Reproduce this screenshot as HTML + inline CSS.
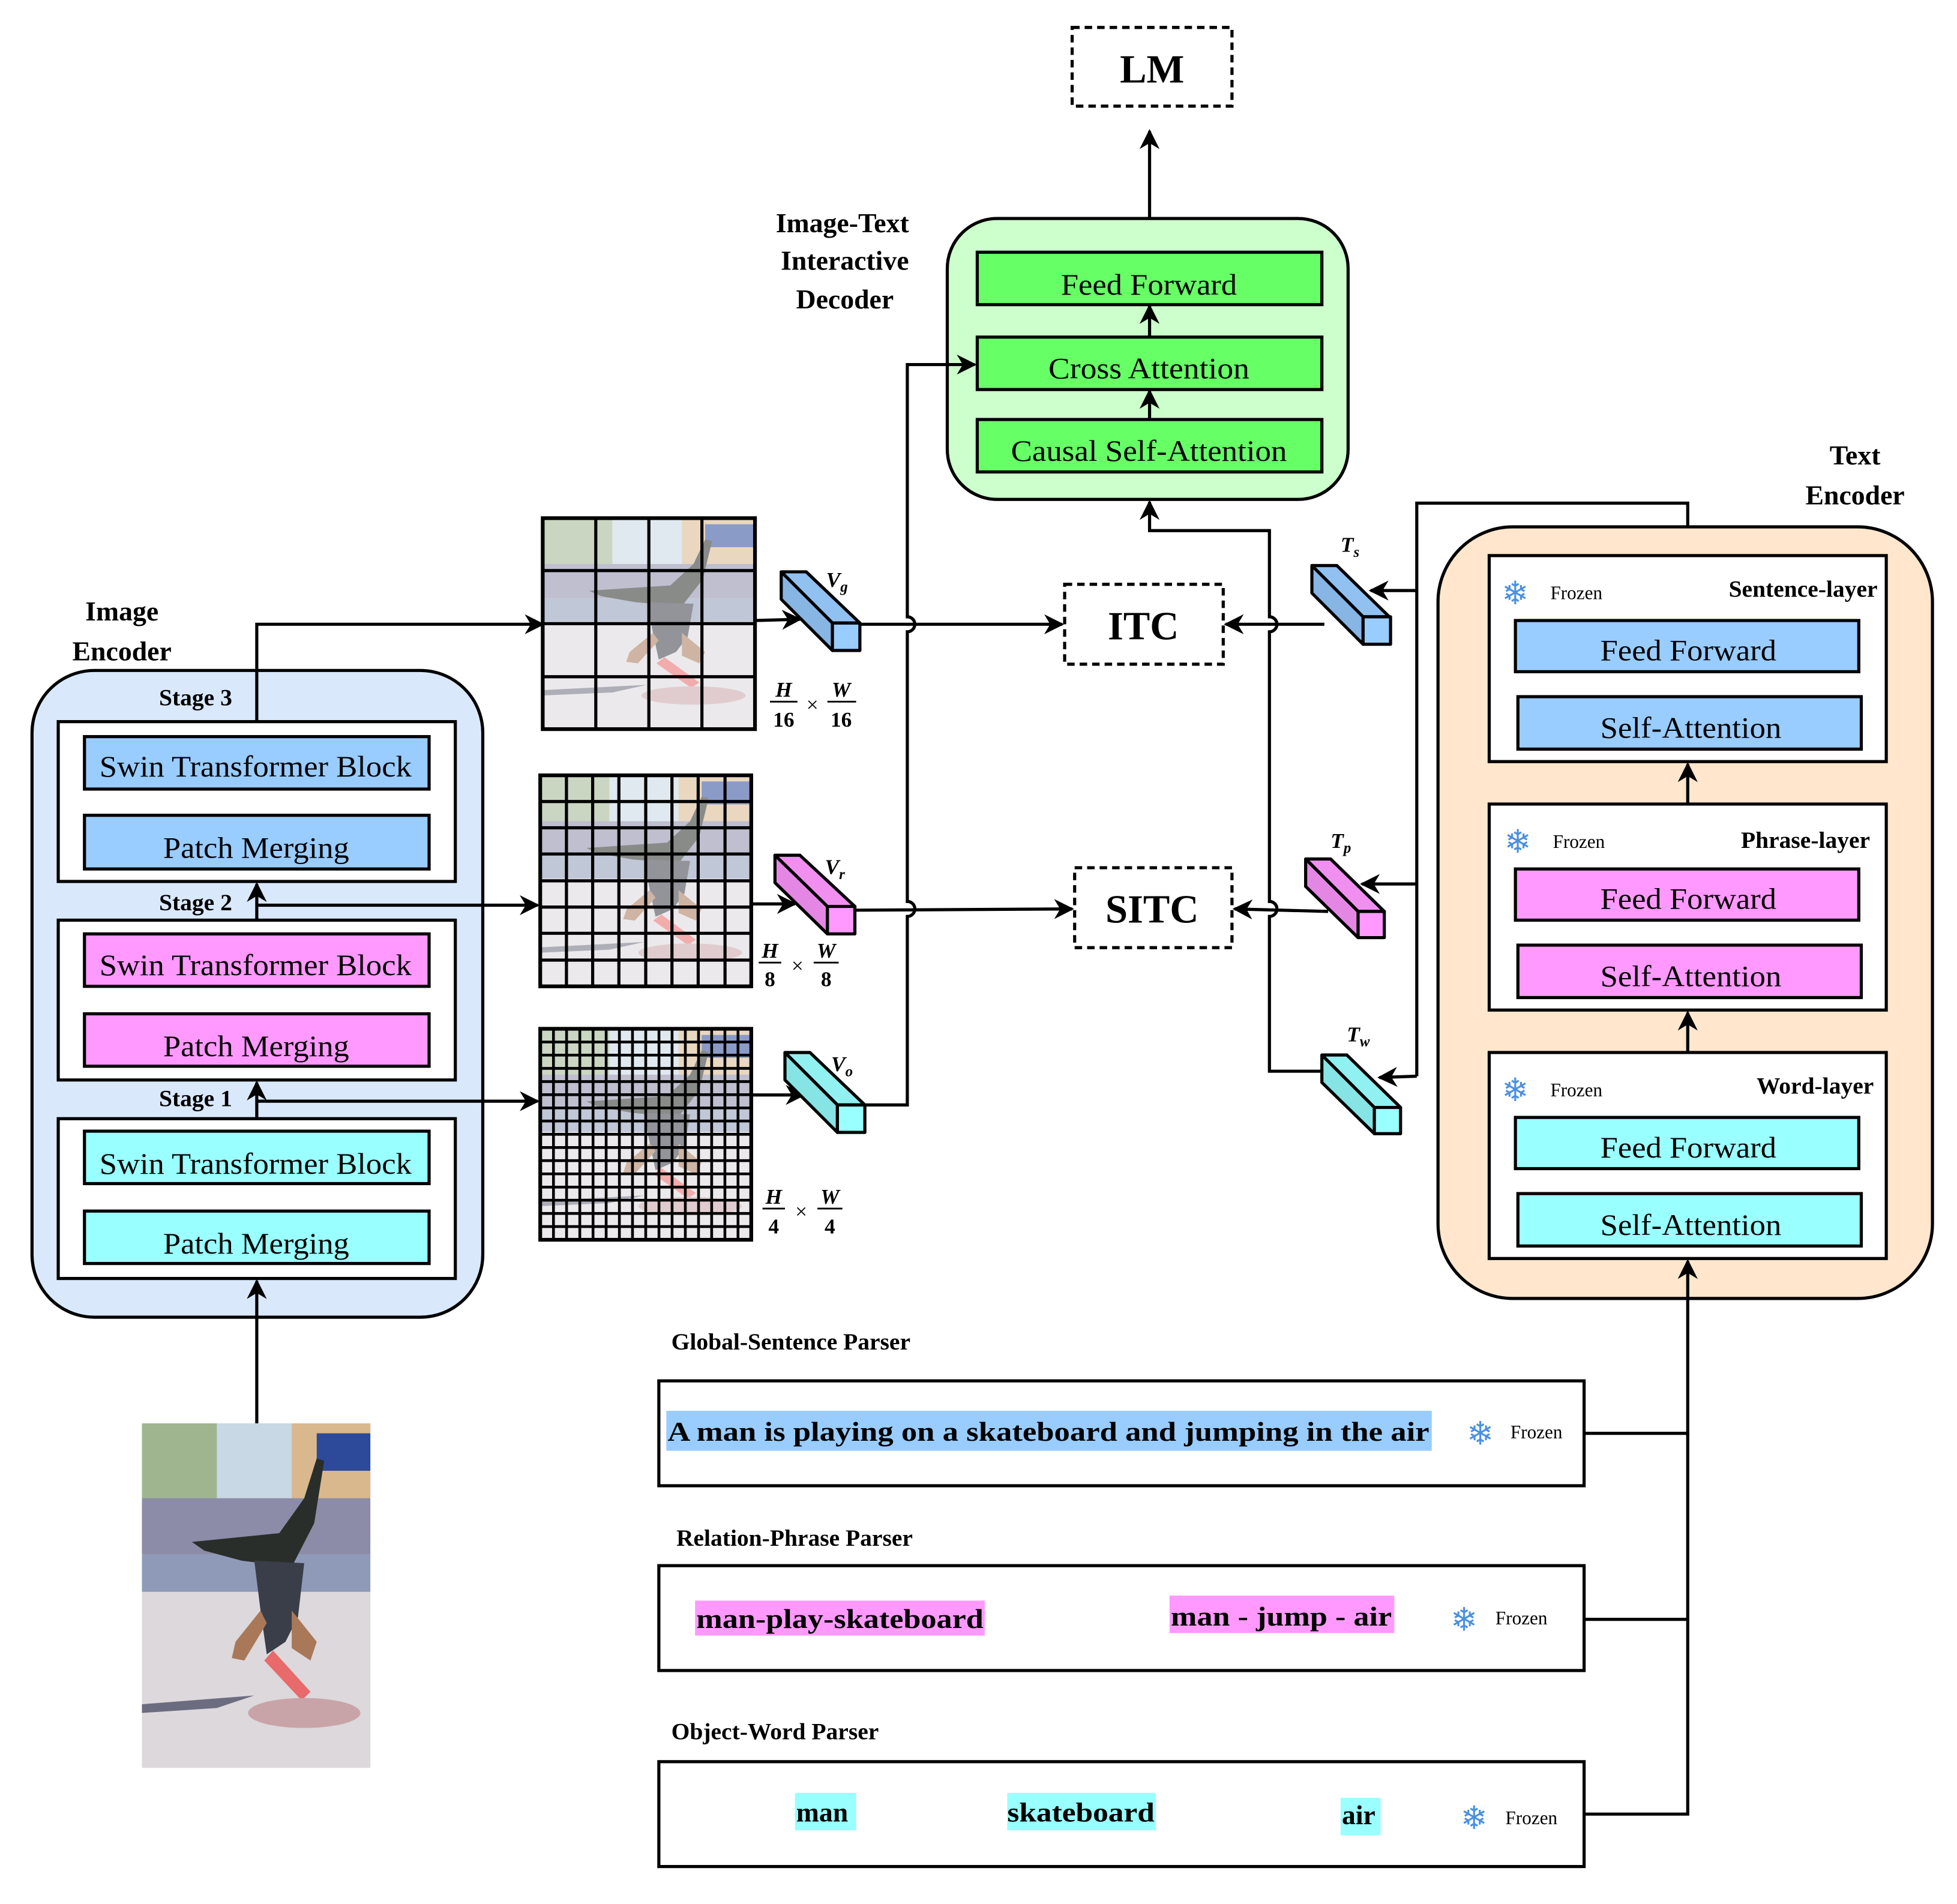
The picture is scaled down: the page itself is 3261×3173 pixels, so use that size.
<!DOCTYPE html>
<html><head><meta charset="utf-8">
<style>
html,body{margin:0;padding:0;background:#fff;}
svg{display:block;font-family:"Liberation Serif","Times New Roman",serif;}
svg text{font-family:"Liberation Serif","Times New Roman",serif;fill:#000;}
.b{font-weight:bold;}
.t22{font-size:22px;}
.t24{font-size:24px;}
.fz{font-size:15px;}
svg text.sf{font-family:"DejaVu Sans",sans-serif;fill:#4a90e2;font-size:26px;}
.it{font-style:italic;font-weight:bold;font-size:17px;}
</style></head>
<body>
<svg width="3261" height="3173" viewBox="0 0 1566 1525" xmlns="http://www.w3.org/2000/svg" font-family="Liberation Serif, serif">
<defs>
<marker id="a" viewBox="0 0 10 10" refX="9" refY="5" markerWidth="16" markerHeight="16" markerUnits="userSpaceOnUse" orient="auto">
<path d="M0,0 L10,5 L0,10 L3,5 z" fill="#000"/>
</marker>
<symbol id="photo" viewBox="0 0 183 276" preserveAspectRatio="none">
<rect width="183" height="276" fill="#d9d9df"/>
<rect width="183" height="60" fill="#c8d8e4"/>
<rect x="0" y="0" width="60" height="90" fill="#9fb58f"/>
<rect x="120" y="0" width="63" height="95" fill="#d8b88c"/>
<rect x="140" y="8" width="43" height="30" fill="#2d4a9a"/>
<rect x="0" y="60" width="183" height="45" fill="#8c8ca8"/>
<rect x="0" y="105" width="183" height="30" fill="#8e9ab8"/>
<rect x="0" y="135" width="183" height="141" fill="#dcd8dc"/>
<path d="M40,95 L70,92 L110,88 L130,60 L140,28 L146,30 L138,80 L120,115 L80,110 L50,102z" fill="#2a2e2a"/>
<path d="M90,110 L130,112 L125,155 L115,175 L100,185 L95,150z" fill="#3a3e48"/>
<path d="M95,150 L75,175 L72,188 L82,190 L100,160z" fill="#a87858"/>
<path d="M120,150 L140,175 L135,190 L120,180z" fill="#a87858"/>
<path d="M105,182 L135,215 L128,222 L98,190z" fill="#e86a6a"/>
<ellipse cx="130" cy="232" rx="45" ry="12" fill="#c8a4a8"/>
<path d="M0,225 L90,218 L60,228 L0,232z" fill="#6c6c80"/>
</symbol>
</defs>

<!-- LM -->
<rect x="858" y="22" width="128" height="63" fill="#fff" stroke="#000" stroke-width="2.5" stroke-dasharray="6,4"/>
<text x="922" y="66" text-anchor="middle" class="b" font-size="32">LM</text>
<line x1="920" y1="203" x2="920" y2="105" stroke="#000" stroke-width="2.5" marker-end="url(#a)"/>

<!-- Decoder -->
<text class="b t22" text-anchor="middle"><tspan x="674" y="186">Image-Text</tspan><tspan x="676" y="216">Interactive</tspan><tspan x="676" y="247">Decoder</tspan></text>
<rect x="758" y="175" width="321" height="225" rx="40" fill="#ccffcc" stroke="#000" stroke-width="2.5"/>
<rect x="782" y="202" width="276" height="42" fill="#66ff66" stroke="#000" stroke-width="2.5"/>
<text x="849" y="236" class="t24" textLength="141" lengthAdjust="spacingAndGlyphs">Feed Forward</text>
<rect x="782" y="270" width="276" height="42" fill="#66ff66" stroke="#000" stroke-width="2.5"/>
<text x="839" y="303" class="t24" textLength="161" lengthAdjust="spacingAndGlyphs">Cross Attention</text>
<rect x="782" y="336" width="276" height="42" fill="#66ff66" stroke="#000" stroke-width="2.5"/>
<text x="809" y="369" class="t24" textLength="221" lengthAdjust="spacingAndGlyphs">Causal Self-Attention</text>
<line x1="920" y1="270" x2="920" y2="245" stroke="#000" stroke-width="2.5" marker-end="url(#a)"/>
<line x1="920" y1="336" x2="920" y2="313" stroke="#000" stroke-width="2.5" marker-end="url(#a)"/>

<!-- Image Encoder -->
<text class="b t22" text-anchor="middle"><tspan x="97" y="497">Image</tspan><tspan x="97" y="529">Encoder</tspan></text>
<rect x="25" y="537" width="361" height="518" rx="50" fill="#dae8fc" stroke="#000" stroke-width="2.5"/>
<g class="b" font-size="19">
<text x="156" y="565" text-anchor="middle">Stage 3</text>
<text x="156" y="729" text-anchor="middle">Stage 2</text>
<text x="156" y="886" text-anchor="middle">Stage 1</text>
</g>
<g stroke="#000" stroke-width="2.5">
<rect x="46" y="578" width="318" height="128" fill="#fff"/>
<rect x="67" y="590" width="276" height="42" fill="#99ccff"/>
<rect x="67" y="653" width="276" height="43" fill="#99ccff"/>
<rect x="46" y="737" width="318" height="128" fill="#fff"/>
<rect x="67" y="748" width="276" height="42" fill="#ff99ff"/>
<rect x="67" y="812" width="276" height="42" fill="#ff99ff"/>
<rect x="46" y="896" width="318" height="128" fill="#fff"/>
<rect x="67" y="906" width="276" height="42" fill="#99ffff"/>
<rect x="67" y="970" width="276" height="42" fill="#99ffff"/>
</g>
<g class="t24">
<text x="79" y="622" textLength="250" lengthAdjust="spacingAndGlyphs">Swin Transformer Block</text>
<text x="130" y="687" textLength="149" lengthAdjust="spacingAndGlyphs">Patch Merging</text>
<text x="79" y="781" textLength="250" lengthAdjust="spacingAndGlyphs">Swin Transformer Block</text>
<text x="130" y="846" textLength="149" lengthAdjust="spacingAndGlyphs">Patch Merging</text>
<text x="79" y="940" textLength="250" lengthAdjust="spacingAndGlyphs">Swin Transformer Block</text>
<text x="130" y="1004" textLength="149" lengthAdjust="spacingAndGlyphs">Patch Merging</text>
</g>

<!-- photo -->
<use href="#photo" x="113" y="1140" width="183" height="276"/>
<line x1="205" y1="1140" x2="205" y2="1026" stroke="#000" stroke-width="2.5" marker-end="url(#a)"/>
<line x1="205" y1="896" x2="205" y2="867" stroke="#000" stroke-width="2.5" marker-end="url(#a)"/>
<line x1="205" y1="737" x2="205" y2="708" stroke="#000" stroke-width="2.5" marker-end="url(#a)"/>
<polyline points="205,578 205,500 434,500" fill="none" stroke="#000" stroke-width="2.5" marker-end="url(#a)"/>
<line x1="205" y1="725" x2="430" y2="725" stroke="#000" stroke-width="2.5" marker-end="url(#a)"/>
<line x1="205" y1="882" x2="430" y2="882" stroke="#000" stroke-width="2.5" marker-end="url(#a)"/>

<!-- grids -->
<g>
<use href="#photo" x="434" y="415" width="170" height="169" opacity="0.55"/>
<rect x="434" y="415" width="170" height="169" fill="none" stroke="#000" stroke-width="3"/>
<path d="M476.5,415V584M519,415V584M561.5,415V584M434,457H604M434,499.5H604M434,542H604" stroke="#000" stroke-width="2.5"/>
</g>
<g>
<use href="#photo" x="432" y="621" width="169" height="169" opacity="0.55"/>
<rect x="432" y="621" width="169" height="169" fill="none" stroke="#000" stroke-width="3"/>
<path d="M453,621V790M474,621V790M495,621V790M516.5,621V790M537.5,621V790M558.5,621V790M580,621V790M432,642H601M432,663H601M432,684H601M432,705.5H601M432,726.5H601M432,747.5H601M432,769H601" stroke="#000" stroke-width="2.5"/>
</g>
<g>
<use href="#photo" x="432" y="824" width="169" height="169" opacity="0.55"/>
<rect x="432" y="824" width="169" height="169" fill="none" stroke="#000" stroke-width="3"/>
<path d="M442.6,824V993M453.1,824V993M463.7,824V993M474.3,824V993M484.8,824V993M495.4,824V993M505.9,824V993M516.5,824V993M527.1,824V993M537.6,824V993M548.2,824V993M558.8,824V993M569.3,824V993M579.9,824V993M590.4,824V993M432,834.6H601M432,845.1H601M432,855.7H601M432,866.3H601M432,876.8H601M432,887.4H601M432,897.9H601M432,908.5H601M432,919.1H601M432,929.6H601M432,940.2H601M432,950.8H601M432,961.3H601M432,971.9H601M432,982.4H601" stroke="#000" stroke-width="2.2"/>
</g>

<!-- arrows grid->cube -->
<line x1="604" y1="497" x2="640" y2="496" stroke="#000" stroke-width="2.5" marker-end="url(#a)"/>
<line x1="601" y1="724" x2="636" y2="724" stroke="#000" stroke-width="2.5" marker-end="url(#a)"/>
<line x1="601" y1="877" x2="643" y2="877" stroke="#000" stroke-width="2.5" marker-end="url(#a)"/>

<!-- V cubes -->
<g stroke="#000" stroke-width="2.5" stroke-linejoin="round">
<polygon points="625,458 645,458 688,499 666,499" fill="#91c1f0"/>
<polygon points="625,458 666,499 666,521 625,480" fill="#87b5e4"/>
<rect x="666" y="499" width="22" height="22" fill="#99ccff"/>
<polygon points="620,685 640,685 684,726 662,726" fill="#f08ff0"/>
<polygon points="620,685 662,726 662,748 620,707" fill="#e487e4"/>
<rect x="662" y="726" width="22" height="22" fill="#ff99ff"/>
<polygon points="628,843 648,843 692,885 670,885" fill="#91f0f0"/>
<polygon points="628,843 670,885 670,907 628,865" fill="#87e4e4"/>
<rect x="670" y="885" width="22" height="22" fill="#99ffff"/>
</g>
<g class="it">
<text x="661" y="470">V<tspan font-size="12" dy="4">g</tspan></text>
<text x="660" y="700">V<tspan font-size="12" dy="4">r</tspan></text>
<text x="665" y="858">V<tspan font-size="12" dy="4">o</tspan></text>
</g>

<!-- fractions -->
<g class="b" font-size="17" text-anchor="middle">
<text x="627" y="558" font-style="italic">H</text><line x1="616" y1="562" x2="638" y2="562" stroke="#000" stroke-width="1.4"/><text x="627" y="582">16</text>
<text x="650" y="570" font-weight="normal">×</text>
<text x="673" y="558" font-style="italic">W</text><line x1="662" y1="562" x2="685" y2="562" stroke="#000" stroke-width="1.4"/><text x="673" y="582">16</text>
<text x="616" y="767" font-style="italic">H</text><line x1="607" y1="771" x2="625" y2="771" stroke="#000" stroke-width="1.4"/><text x="616" y="790">8</text>
<text x="638" y="779" font-weight="normal">×</text>
<text x="661" y="767" font-style="italic">W</text><line x1="651" y1="771" x2="671" y2="771" stroke="#000" stroke-width="1.4"/><text x="661" y="790">8</text>
<text x="619" y="964" font-style="italic">H</text><line x1="610" y1="968" x2="628" y2="968" stroke="#000" stroke-width="1.4"/><text x="619" y="988">4</text>
<text x="641" y="976" font-weight="normal">×</text>
<text x="664" y="964" font-style="italic">W</text><line x1="654" y1="968" x2="674" y2="968" stroke="#000" stroke-width="1.4"/><text x="664" y="988">4</text>
</g>

<!-- V line to cross attention with hops -->
<path d="M692,885 H726 V734 A6,6 0 0 0 726,722 V506 A6,6 0 0 0 726,494 V292 H780" fill="none" stroke="#000" stroke-width="2.5" marker-end="url(#a)"/>
<line x1="688" y1="500" x2="850" y2="500" stroke="#000" stroke-width="2.5" marker-end="url(#a)"/>
<line x1="684" y1="729" x2="858" y2="728" stroke="#000" stroke-width="2.5" marker-end="url(#a)"/>

<!-- ITC / SITC -->
<rect x="852" y="468" width="127" height="64" fill="#fff" stroke="#000" stroke-width="2.5" stroke-dasharray="6,4"/>
<text x="915" y="512" text-anchor="middle" class="b" font-size="32">ITC</text>
<rect x="860" y="695" width="126" height="64" fill="#fff" stroke="#000" stroke-width="2.5" stroke-dasharray="6,4"/>
<text x="922" y="739" text-anchor="middle" class="b" font-size="32">SITC</text>

<!-- T side vertical line (Tw to decoder) -->
<path d="M1058,858 H1016 V734 A6,6 0 0 0 1016,722 V506 A6,6 0 0 0 1016,494 V425 H920 V402" fill="none" stroke="#000" stroke-width="2.5" marker-end="url(#a)"/>
<line x1="1060" y1="500" x2="981" y2="500" stroke="#000" stroke-width="2.5" marker-end="url(#a)"/>
<line x1="1063" y1="730" x2="988" y2="728" stroke="#000" stroke-width="2.5" marker-end="url(#a)"/>

<!-- T cubes -->
<g stroke="#000" stroke-width="2.5" stroke-linejoin="round">
<polygon points="1050,453 1070,453 1112,494 1091,494" fill="#91c1f0"/>
<polygon points="1050,453 1091,494 1091,516 1050,475" fill="#87b5e4"/>
<rect x="1091" y="494" width="22" height="22" fill="#99ccff"/>
<polygon points="1045,688 1065,688 1108,730 1087,730" fill="#f08ff0"/>
<polygon points="1045,688 1087,730 1087,751 1045,710" fill="#e487e4"/>
<rect x="1087" y="730" width="21" height="21" fill="#ff99ff"/>
<polygon points="1058,845 1078,845 1121,887 1100,887" fill="#91f0f0"/>
<polygon points="1058,845 1100,887 1100,908 1058,867" fill="#87e4e4"/>
<rect x="1100" y="887" width="21" height="21" fill="#99ffff"/>
</g>
<g class="it">
<text x="1073" y="442">T<tspan font-size="12" dy="4">s</tspan></text>
<text x="1065" y="679">T<tspan font-size="12" dy="4">p</tspan></text>
<text x="1078" y="834">T<tspan font-size="12" dy="4">w</tspan></text>
</g>

<!-- Text encoder connector -->
<path d="M1351,445 V403 H1134 V862" fill="none" stroke="#000" stroke-width="2.5"/>
<line x1="1134" y1="473" x2="1097" y2="473" stroke="#000" stroke-width="2.5" marker-end="url(#a)"/>
<line x1="1134" y1="708" x2="1090" y2="708" stroke="#000" stroke-width="2.5" marker-end="url(#a)"/>
<line x1="1134" y1="862" x2="1104" y2="863" stroke="#000" stroke-width="2.5" marker-end="url(#a)"/>

<!-- Text Encoder -->
<text class="b t22" text-anchor="middle"><tspan x="1485" y="372">Text</tspan><tspan x="1485" y="404">Encoder</tspan></text>
<rect x="1151" y="422" width="396" height="618" rx="60" fill="#ffe6cc" stroke="#000" stroke-width="2.5"/>
<g stroke="#000" stroke-width="2.5">
<rect x="1192" y="445" width="318" height="165" fill="#fff"/>
<rect x="1213" y="497" width="275" height="41" fill="#99ccff"/>
<rect x="1215" y="558" width="275" height="42" fill="#99ccff"/>
<rect x="1192" y="644" width="318" height="165" fill="#fff"/>
<rect x="1213" y="696" width="275" height="41" fill="#ff99ff"/>
<rect x="1215" y="757" width="275" height="42" fill="#ff99ff"/>
<rect x="1192" y="843" width="318" height="165" fill="#fff"/>
<rect x="1213" y="895" width="275" height="41" fill="#99ffff"/>
<rect x="1215" y="956" width="275" height="42" fill="#99ffff"/>
</g>
<g class="t24">
<text x="1281" y="529" textLength="141" lengthAdjust="spacingAndGlyphs">Feed Forward</text>
<text x="1281" y="591" textLength="145" lengthAdjust="spacingAndGlyphs">Self-Attention</text>
<text x="1281" y="728" textLength="141" lengthAdjust="spacingAndGlyphs">Feed Forward</text>
<text x="1281" y="790" textLength="145" lengthAdjust="spacingAndGlyphs">Self-Attention</text>
<text x="1281" y="927" textLength="141" lengthAdjust="spacingAndGlyphs">Feed Forward</text>
<text x="1281" y="989" textLength="145" lengthAdjust="spacingAndGlyphs">Self-Attention</text>
</g>
<g class="b" font-size="19" text-anchor="end">
<text x="1503" y="478">Sentence-layer</text>
<text x="1497" y="679">Phrase-layer</text>
<text x="1500" y="876">Word-layer</text>
</g>
<text class="sf" x="1202" y="484">❄</text><text class="fz" x="1241" y="480">Frozen</text>
<text class="sf" x="1204" y="683">❄</text><text class="fz" x="1243" y="679">Frozen</text>
<text class="sf" x="1202" y="882">❄</text><text class="fz" x="1241" y="878">Frozen</text>
<line x1="1351" y1="644" x2="1351" y2="612" stroke="#000" stroke-width="2.5" marker-end="url(#a)"/>
<line x1="1351" y1="843" x2="1351" y2="811" stroke="#000" stroke-width="2.5" marker-end="url(#a)"/>

<!-- Parsers -->
<g class="b" font-size="19">
<text x="537" y="1081">Global-Sentence Parser</text>
<text x="541" y="1238">Relation-Phrase Parser</text>
<text x="537" y="1393">Object-Word Parser</text>
</g>
<g stroke="#000" stroke-width="2.5" fill="#fff">
<rect x="527" y="1106" width="741" height="84"/>
<rect x="527" y="1254" width="741" height="84"/>
<rect x="527" y="1411" width="741" height="84"/>
</g>
<rect x="533" y="1130" width="613" height="32" fill="#99ccff"/>
<text x="534" y="1154" class="b t22" textLength="610" lengthAdjust="spacingAndGlyphs">A man is playing on a skateboard and jumping in the air</text>
<rect x="556" y="1282" width="232" height="28" fill="#ff99ff"/>
<text x="557" y="1304" class="b t22" textLength="230" lengthAdjust="spacingAndGlyphs">man-play-skateboard</text>
<rect x="936" y="1278" width="180" height="30" fill="#ff99ff"/>
<text x="937" y="1302" class="b t22" textLength="177" lengthAdjust="spacingAndGlyphs">man - jump - air</text>
<rect x="636" y="1436" width="49" height="30" fill="#99ffff"/>
<text x="637" y="1459" class="b t22">man</text>
<rect x="806" y="1436" width="119" height="30" fill="#99ffff"/>
<text x="806" y="1459" class="b t22" textLength="118" lengthAdjust="spacingAndGlyphs">skateboard</text>
<rect x="1073" y="1440" width="32" height="30" fill="#99ffff"/>
<text x="1074" y="1461" class="b t22">air</text>
<text class="sf" x="1174" y="1157">❄</text><text class="fz" x="1209" y="1152">Frozen</text>
<text class="sf" x="1161" y="1306">❄</text><text class="fz" x="1197" y="1301">Frozen</text>
<text class="sf" x="1169" y="1465">❄</text><text class="fz" x="1205" y="1461">Frozen</text>

<path d="M1268,1148 H1351 M1268,1297 H1351 M1268,1453 H1351 V1148" fill="none" stroke="#000" stroke-width="2.5"/>
<line x1="1351" y1="1150" x2="1351" y2="1010" stroke="#000" stroke-width="2.5" marker-end="url(#a)"/>
</svg>
</body></html>
